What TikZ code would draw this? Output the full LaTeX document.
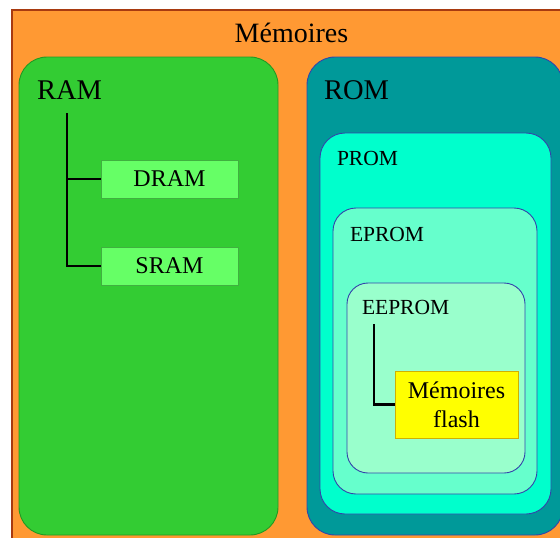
\documentclass[tikz,border=0pt]{standalone}
\usepackage{fontspec}
\setmainfont{Liberation Serif}
\definecolor{memorange}{HTML}{FF9933}
\definecolor{memedge}{HTML}{A83A10}
\definecolor{ramgreen}{HTML}{33CC33}
\definecolor{ramedge}{HTML}{229922}
\definecolor{subgreen}{HTML}{66FF66}
\definecolor{subedge}{HTML}{40B040}
\definecolor{romteal}{HTML}{009999}
\definecolor{romedge}{HTML}{3344AA}
\definecolor{promc}{HTML}{00FFCC}
\definecolor{epromc}{HTML}{66FFCC}
\definecolor{eepromc}{HTML}{99FFCC}
\definecolor{flashc}{HTML}{FFFF00}
\definecolor{flashedge}{HTML}{D0B000}
\begin{document}
\begin{tikzpicture}[x=1pt,y=-1pt,
  box/.style={draw, anchor=north west, inner sep=0pt, outer sep=0pt, line width=0.9pt},
  rbox/.style={box, rounded corners=#1},
  lbl/.style={anchor=base west, inner sep=0pt, outer sep=0pt},
  big/.style={font=\fontsize{28.5}{34}\selectfont},
  mid/.style={font=\fontsize{21.5}{26}\selectfont},
  sub/.style={font=\fontsize{24}{29}\selectfont},
  treeline/.style={line width=2.6pt, draw=black}]
\useasboundingbox (0,0) rectangle (560,538);
\clip (0,0) rectangle (560,538);
% outer frame
\node[box, fill=memorange, draw=memedge, line width=1.2pt, minimum width=570pt, minimum height=560pt] (mem) at (12,10) {};
\node[anchor=base, inner sep=0pt, font=\fontsize{28}{34}\selectfont] (memtitle) at (291.5,42) {Mémoires};
% RAM
\node[rbox=28pt, fill=ramgreen, draw=ramedge, minimum width=259pt, minimum height=478pt] (ram) at (19,57) {};
\node[lbl, big] (ramlbl) at (37,99) {RAM};
\node[box, fill=subgreen, draw=subedge, minimum width=137pt, minimum height=38pt, sub] (dram) at (101,160) {DRAM};
\node[box, fill=subgreen, draw=subedge, minimum width=137pt, minimum height=38pt, sub] (sram) at (101,247) {SRAM};
\coordinate (ramroot) at (67,113);
\draw[treeline] (ramroot) |- (dram.west);
\draw[treeline] (ramroot) |- (sram.west);
% ROM
\node[rbox=28pt, fill=romteal, draw=romedge, minimum width=256pt, minimum height=478pt] (rom) at (307,57) {};
\node[lbl, big] (romlbl) at (324,99) {ROM};
\node[rbox=25pt, fill=promc, draw=romedge, minimum width=231pt, minimum height=381pt] (prom) at (320,133) {};
\node[lbl, mid] (promlbl) at (337,165) {PROM};
\node[rbox=23pt, fill=epromc, draw=romedge, minimum width=204pt, minimum height=286pt] (eprom) at (333,208) {};
\node[lbl, mid] (epromlbl) at (350,241) {EPROM};
\node[rbox=21pt, fill=eepromc, draw=romedge, minimum width=178pt, minimum height=190pt] (eeprom) at (347,283) {};
\node[lbl, mid] (eepromlbl) at (362,314) {EEPROM};
\node[box, fill=flashc, draw=flashedge, minimum width=123pt, minimum height=67pt, align=center, sub] (flash) at (395,371) {Mémoires\\flash};
\coordinate (eeroot) at (374,324);
\draw[treeline] (eeroot) |- (flash.west);
\end{tikzpicture}
\end{document}
